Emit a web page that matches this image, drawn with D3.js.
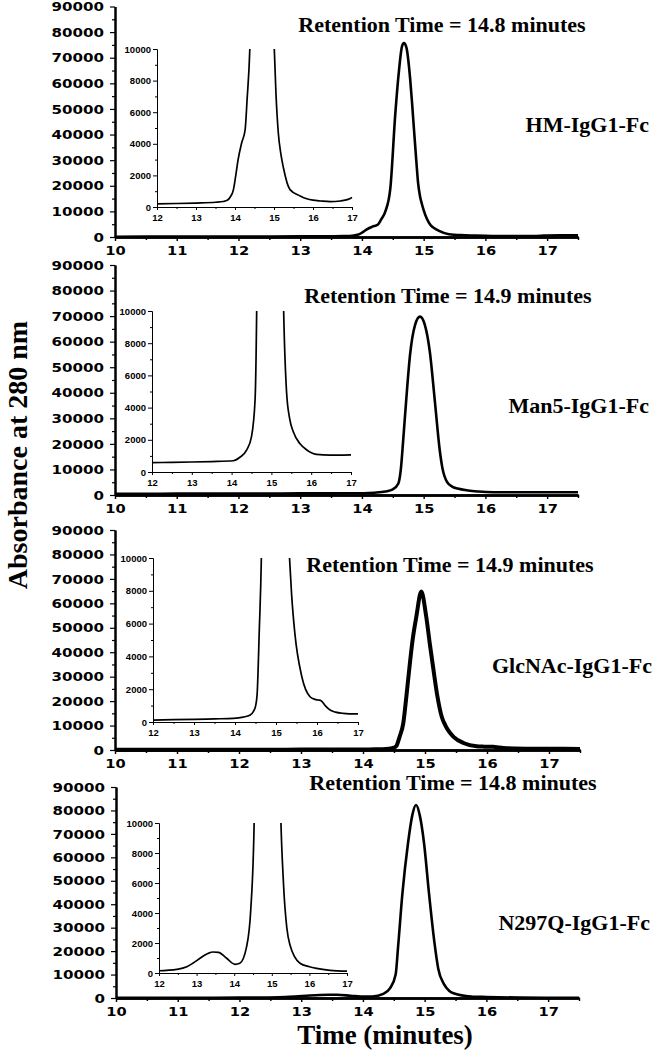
<!DOCTYPE html>
<html><head><meta charset="utf-8">
<script src="https://cdn.jsdelivr.net/npm/d3@7"></script>
<style>body{margin:0;background:#fff} svg{display:block}</style>
</head><body>
<svg id="c" width="655" height="1050"></svg>
<script>
// ---- data ----
const sampleNames = ["HM-IgG1-Fc", "Man5-IgG1-Fc", "GlcNAc-IgG1-Fc", "N297Q-IgG1-Fc"];
const retentionTimes = [14.8, 14.9, 14.9, 14.8];

const hmTime = [10.0,10.5,11.0,11.5,12.0,12.5,13.0,13.5,13.7,13.8,13.87,13.96,14.02,14.08,14.17,14.26,14.31,14.38,14.46,14.54,14.60,14.65,14.68,14.72,14.78,14.81,14.84,14.88,14.91,14.94,14.97,15.00,15.05,15.11,15.18,15.24,15.41,15.67,15.84,16.0,16.2,16.44,16.7,16.9,17.0,17.2,17.5];
const hmAbs  = [120,140,160,180,200,220,250,300,350,420,600,1100,2000,3000,4050,4900,6800,10000,19000,48000,65000,74500,75700,74000,62000,53000,43000,30000,21000,16000,13000,10500,7200,4700,3300,2500,1100,700,520,430,380,340,380,480,600,650,650];

const man5Time = [10.0,10.5,11.0,11.5,12.0,12.5,13.0,13.5,14.04,14.2,14.38,14.5,14.59,14.63,14.67,14.72,14.78,14.86,14.94,15.02,15.10,15.18,15.26,15.30,15.38,15.46,15.55,15.72,15.89,16.13,16.47,16.8,17.0,17.5];
const man5Abs  = [480,500,520,550,580,600,620,650,700,900,1370,2200,4500,10000,22000,38000,55000,66500,69800,66500,56000,37000,17600,11000,5000,3300,2500,1750,1370,1100,1050,1050,1060,1100];

const glcTime = [10.0,10.5,11.0,11.5,12.0,12.5,13.0,13.5,13.96,14.2,14.37,14.45,14.50,14.54,14.59,14.65,14.70,14.75,14.80,14.86,14.94,15.02,15.08,15.13,15.20,15.27,15.33,15.38,15.46,15.63,15.83,15.95,16.03,16.10,16.20,16.32,16.45,16.64,17.0,17.5];
const glcAbs  = [80,90,100,110,120,140,160,190,220,300,430,650,950,1700,5400,11000,22000,34000,45000,54500,64800,54500,43000,34000,22000,13600,10000,7800,5400,2760,1540,1380,1340,1300,1000,730,600,530,490,450];

const nqTime = [10.0,10.5,11.0,11.5,12.0,12.2,12.47,12.74,12.9,13.09,13.3,13.44,13.58,13.8,14.02,14.15,14.33,14.44,14.53,14.57,14.64,14.73,14.80,14.86,14.92,14.99,15.07,15.16,15.22,15.31,15.40,15.48,15.75,16.0,16.19,16.55,17.0,17.5];
const nqAbs  = [60,70,90,110,150,180,240,420,650,980,1300,1400,1380,980,580,650,1760,4200,10000,22000,44700,66000,78000,82300,78000,66000,44700,23300,12500,6000,3000,1900,650,420,310,180,120,100];

const seriesTimes = [hmTime, man5Time, glcTime, nqTime];
const seriesAbs = [hmAbs, man5Abs, glcAbs, nqAbs];

// ticks
const mainYTicks = [0,10000,20000,30000,40000,50000,60000,70000,80000,90000];
const mainYMinor = [5000,15000,25000,35000,45000,55000,65000,75000,85000];
const mainXTicks = [10,11,12,13,14,15,16,17];
const mainXMinor = [10.5,11.5,12.5,13.5,14.5,15.5,16.5,17.5];
const insetYTicks = [0,2000,4000,6000,8000,10000];
const insetYMinor = [1000,3000,5000,7000,9000];
const insetXTicks = [12,13,14,15,16,17];
const insetXMinor = [12.5,13.5,14.5,15.5,16.5];

// ---- layout ----
const layouts = [
  {mx:[115,578], my:[237,6.5], ix:[157,352], iy:[207,49],  rt:[442,32],  lb:[649,132], lw:2.6},
  {mx:[115,578], my:[495,265], ix:[152,351], iy:[472,311], rt:[448,303], lb:[649,413], lw:2.6},
  {mx:[115,580], my:[750,530], ix:[153,358], iy:[722,558], rt:[450,572], lb:[652,673], lw:4},
  {mx:[116,579], my:[998,787], ix:[159,347], iy:[973,823], rt:[453,790], lb:[650,930], lw:2.6}
];

const svg = d3.select("#c");
const serif = "'Liberation Serif','Times New Roman',serif";
const wide = "'DejaVu Sans',sans-serif";
const arial = "'Liberation Sans',Arial,sans-serif";

function styleAxis(g, sw) {
  g.select(".domain").attr("stroke","#000").attr("stroke-width",sw);
  g.selectAll(".tick line").attr("stroke","#000").attr("stroke-width",Math.max(1, sw*0.6));
}

layouts.forEach((L, i) => {
  const g = svg.append("g");
  const x = d3.scaleLinear().domain([10,17.5]).range(L.mx);
  const y = d3.scaleLinear().domain([0,90000]).range(L.my);
  const data = seriesTimes[i].map((t,k)=>({t, v: seriesAbs[i][k]}));

  // main y axis
  const yMin = g.append("g").attr("transform",`translate(${L.mx[0]},0)`)
    .call(d3.axisLeft(y).tickValues(mainYMinor).tickSize(3).tickSizeOuter(0).tickFormat(""));
  styleAxis(yMin, 2);
  const yAx = g.append("g").attr("transform",`translate(${L.mx[0]},0)`)
    .call(d3.axisLeft(y).tickValues(mainYTicks).tickSize(5).tickSizeOuter(0).tickPadding(6).tickFormat(d3.format("d")));
  styleAxis(yAx, 2);
  yAx.selectAll("text").attr("font-family",wide).attr("font-weight","bold").attr("font-size",13)
    .attr("fill","#000")
    .attr("textLength", d => String(d).length*10.5).attr("lengthAdjust","spacingAndGlyphs");

  // main x axis
  const xMin = g.append("g").attr("transform",`translate(0,${L.my[0]})`)
    .call(d3.axisBottom(x).tickValues(mainXMinor).tickSize(3).tickSizeOuter(0).tickFormat(""));
  styleAxis(xMin, 2.4);
  const xAx = g.append("g").attr("transform",`translate(0,${L.my[0]})`)
    .call(d3.axisBottom(x).tickValues(mainXTicks).tickSize(4).tickSizeOuter(0).tickPadding(5).tickFormat(d3.format("d")));
  styleAxis(xAx, 2.4);
  xAx.selectAll("text").attr("font-family",wide).attr("font-weight","bold").attr("font-size",13)
    .attr("fill","#000")
    .attr("textLength", d => String(d).length*10.2).attr("lengthAdjust","spacingAndGlyphs");

  // main curve
  g.append("path").datum(data)
    .attr("fill","none").attr("stroke","#000").attr("stroke-width",L.lw).attr("stroke-linejoin","round")
    .attr("d", d3.line().x(d=>x(d.t)).y(d=>y(d.v)).curve(d3.curveMonotoneX));

  // inset
  const xi = d3.scaleLinear().domain([12,17]).range(L.ix);
  const yi = d3.scaleLinear().domain([0,10000]).range(L.iy);
  const clipId = "clip"+i;
  svg.append("clipPath").attr("id",clipId).append("rect")
    .attr("x",L.ix[0]).attr("y",L.iy[1]).attr("width",L.ix[1]-L.ix[0]+2).attr("height",L.iy[0]-L.iy[1]);

  const iyMin = g.append("g").attr("transform",`translate(${L.ix[0]},0)`)
    .call(d3.axisLeft(yi).tickValues(insetYMinor).tickSize(2).tickSizeOuter(0).tickFormat(""));
  styleAxis(iyMin, 1);
  const iyAx = g.append("g").attr("transform",`translate(${L.ix[0]},0)`)
    .call(d3.axisLeft(yi).tickValues(insetYTicks).tickSize(4).tickSizeOuter(0).tickPadding(2).tickFormat(d3.format("d")));
  styleAxis(iyAx, 1);
  iyAx.selectAll("text").attr("font-family",arial).attr("font-weight","bold").attr("font-size",9.5).attr("fill","#000");

  const ixMin = g.append("g").attr("transform",`translate(0,${L.iy[0]})`)
    .call(d3.axisBottom(xi).tickValues(insetXMinor).tickSize(2).tickSizeOuter(0).tickFormat(""));
  styleAxis(ixMin, 1);
  const ixAx = g.append("g").attr("transform",`translate(0,${L.iy[0]})`)
    .call(d3.axisBottom(xi).tickValues(insetXTicks).tickSize(3).tickSizeOuter(0).tickPadding(4).tickFormat(d3.format("d")));
  styleAxis(ixAx, 1);
  ixAx.selectAll("text").attr("font-family",arial).attr("font-weight","bold").attr("font-size",9.5).attr("fill","#000");

  g.append("path").datum(data.filter(d => d.t >= 12 && d.t <= 17))
    .attr("clip-path",`url(#${clipId})`)
    .attr("fill","none").attr("stroke","#000").attr("stroke-width",1.7).attr("stroke-linejoin","round")
    .attr("d", d3.line().x(d=>xi(d.t)).y(d=>yi(d.v)).curve(d3.curveMonotoneX));

  // texts
  g.append("text").attr("x",L.rt[0]).attr("y",L.rt[1]).attr("text-anchor","middle")
    .attr("font-family",serif).attr("font-weight","bold").attr("font-size",22)
    .text(`Retention Time = ${retentionTimes[i]} minutes`);
  g.append("text").attr("x",L.lb[0]).attr("y",L.lb[1]).attr("text-anchor","end")
    .attr("font-family",serif).attr("font-weight","bold").attr("font-size",22)
    .text(sampleNames[i]);
});

// axis titles
svg.append("text").attr("transform","translate(27,455) rotate(-90)").attr("text-anchor","middle")
  .attr("font-family",serif).attr("font-weight","bold").attr("font-size",28)
  .text("Absorbance at 280 nm");
svg.append("text").attr("x",385).attr("y",1044).attr("text-anchor","middle")
  .attr("font-family",serif).attr("font-weight","bold").attr("font-size",27)
  .text("Time (minutes)");
</script>
</body></html>
